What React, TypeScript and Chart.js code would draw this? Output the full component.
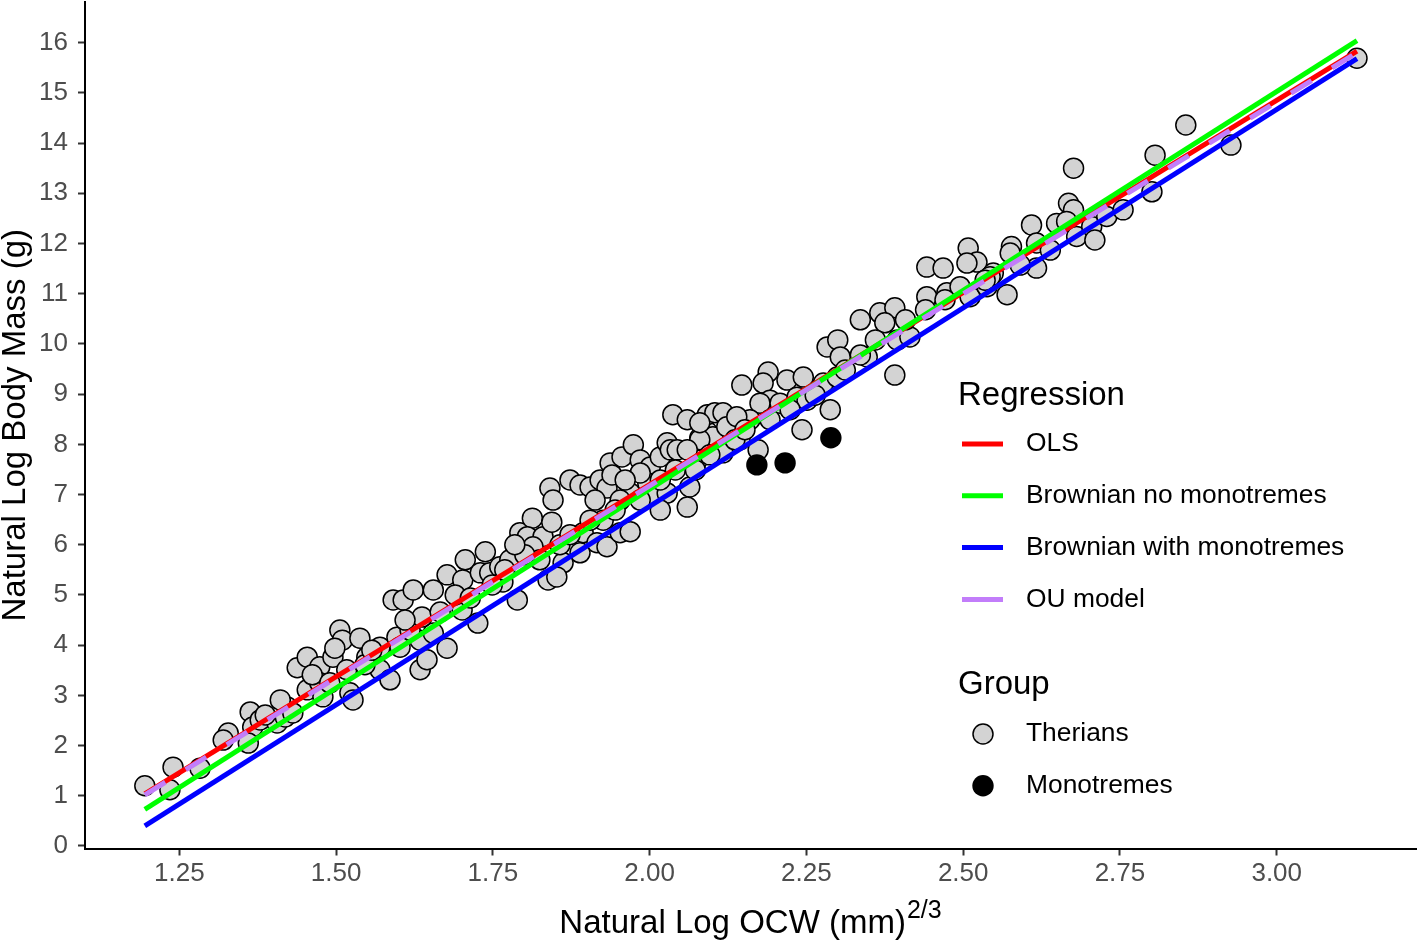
import React, { useEffect, useRef } from 'react';
import { Chart, registerables } from 'chart.js';

Chart.register(...registerables);

const FONT = '"Liberation Sans", Arial, Helvetica, sans-serif';

// Therian species (grey points)
const therianX = [
  1.195, 1.240, 1.235, 1.283, 1.328, 1.320, 1.363, 1.367, 1.360, 1.379,
  1.406, 1.422, 1.419, 1.431, 1.438, 1.454, 1.454, 1.474, 1.474, 1.479,
  1.495, 1.506, 1.510, 1.517, 1.522, 1.527, 1.538, 1.549, 1.570, 1.570,
  1.586, 1.597, 1.591, 1.607, 1.623, 1.634, 1.634, 1.645, 1.655, 1.677,
  1.706, 1.738, 1.702, 1.730, 1.745, 1.761, 1.777, 1.766, 1.789, 1.726,
  1.677, 1.655, 1.618, 1.637, 1.701, 1.793, 1.813, 1.805, 1.830, 1.844,
  1.814, 1.825, 1.838, 1.862, 1.852, 1.889, 1.894, 1.916, 1.932, 1.953,
  1.969, 1.926, 1.841, 1.846, 1.873, 1.889, 1.905, 1.921, 1.932, 1.937,
  1.940, 1.956, 1.974, 1.985, 2.001, 2.017, 2.028, 2.033, 2.044, 1.997,
  2.005, 2.028, 2.064, 2.060, 2.017, 2.080, 2.092, 2.101, 2.037, 2.092,
  2.104, 1.985, 1.969, 1.953, 1.985, 2.147, 2.189, 2.181, 2.219, 2.245,
  2.192, 2.176, 2.208, 2.235, 2.251, 2.288, 2.243, 2.277, 2.299, 2.283,
  2.300, 2.304, 2.336, 2.367, 2.391, 2.375, 2.395, 2.415, 2.391, 2.347,
  2.442, 2.442, 2.468, 2.508, 2.522, 2.474, 2.495, 2.511, 2.538, 2.548,
  2.101, 2.080, 2.117, 2.123, 2.144, 2.160, 2.173, 2.076, 2.117, 2.060,
  2.139, 2.506, 2.543, 2.570, 2.577, 2.575, 2.609, 2.617, 2.617, 2.649,
  2.668, 2.676, 2.665, 2.681, 2.705, 2.729, 2.755, 2.676, 2.806, 2.801,
  2.855, 2.927, 3.128, 1.602, 2.060, 2.080,
  1.498, 1.462, 1.490, 1.546, 1.557, 1.610, 1.666, 1.690, 1.714, 1.749,
  1.769, 1.801, 1.785, 1.857, 1.873, 1.905, 1.945, 1.913, 1.961, 2.017,
  2.041, 2.073, 2.096, 2.136, 2.152, 2.192, 2.224, 2.264, 2.312, 2.336,
  2.360, 2.408, 2.440, 2.471, 2.535, 2.591, 2.639, 2.710, 1.411, 1.387,
];
const therianY = [
  1.20, 1.57, 1.12, 1.55, 2.25, 2.11, 2.67, 2.37, 2.05, 2.51,
  2.45, 2.77, 2.57, 2.65, 3.55, 3.76, 3.11, 3.57, 3.25, 2.97,
  3.76, 4.30, 4.10, 3.51, 3.05, 2.91, 4.14, 3.76, 3.96, 3.51,
  3.31, 4.16, 4.90, 4.90, 5.10, 3.51, 4.10, 3.71, 5.10, 5.40,
  5.70, 5.86, 5.30, 5.44, 5.44, 5.56, 5.70, 5.26, 4.90, 4.44,
  3.94, 4.24, 4.30, 4.56, 4.70, 6.24, 6.53, 6.16, 6.16, 6.45,
  5.96, 5.70, 5.30, 5.64, 5.36, 5.84, 6.24, 6.04, 5.96, 6.24,
  6.26, 6.49, 7.13, 6.89, 7.29, 7.19, 7.15, 7.29, 7.13, 7.63,
  7.39, 7.75, 7.99, 7.69, 7.55, 7.75, 8.03, 7.89, 7.89, 7.23,
  6.95, 7.03, 7.15, 6.75, 6.69, 8.13, 8.25, 8.03, 8.59, 8.59,
  8.63, 7.43, 7.03, 6.89, 6.89, 9.18, 9.44, 9.22, 9.28, 9.34,
  8.88, 8.82, 8.82, 8.94, 8.88, 8.69, 8.29, 9.22, 9.34, 9.94,
  10.08, 9.74, 10.48, 10.62, 10.72, 10.42, 10.08, 10.14, 9.38, 9.74,
  10.94, 11.53, 11.51, 11.91, 11.63, 11.02, 11.14, 10.94, 11.14, 11.41,
  8.15, 8.09, 8.63, 8.35, 8.09, 8.49, 7.89, 7.69, 7.83, 7.89,
  8.55, 11.61, 11.34, 10.98, 11.94, 11.81, 12.37, 12.01, 11.51, 12.40,
  12.80, 12.67, 12.44, 12.14, 12.34, 12.54, 12.67, 13.50, 13.76, 13.03,
  14.36, 13.96, 15.69, 3.96, 8.49, 8.43,
  3.94, 3.41, 3.25, 3.61, 3.90, 4.50, 4.66, 5.00, 4.94, 5.20,
  5.50, 5.80, 6.00, 6.00, 6.20, 6.49, 6.69, 6.89, 7.29, 7.29,
  7.49, 7.49, 7.79, 8.09, 8.29, 8.49, 8.69, 8.98, 9.48, 9.78,
  10.08, 10.48, 10.68, 10.88, 11.27, 11.57, 11.87, 12.07, 2.91, 2.61,
];

// Monotremes (black points)
const monotremeX = [2.171, 2.216, 2.289];
const monotremeY = [7.59, 7.63, 8.13];

// Regression lines (endpoints over the data range)
const lineX = [1.195, 3.128];
const olsY = [1.04, 15.83];
const brownianNoMonoY = [0.73, 16.04];
const brownianWithMonoY = [0.40, 15.68];
const ouY = [1.02, 15.80];

// Axes
const X_MIN = 1.0996;
const X_MAX = 3.2221;
const Y_MIN = -0.05;
const Y_MAX = 16.81;
const xTicks = [1.25, 1.5, 1.75, 2.0, 2.25, 2.5, 2.75, 3.0];
const yTicks = [0, 1, 2, 3, 4, 5, 6, 7, 8, 9, 10, 11, 12, 13, 14, 15, 16];

const xTitleMain = 'Natural Log OCW (mm)';
const xTitleSup = '2/3';
const yTitle = 'Natural Log Body Mass (g)';
const regressionTitle = 'Regression';
const regressionOrder = ['OLS', 'Brownian no monotremes', 'Brownian with monotremes', 'OU model'];
const groupTitle = 'Group';
const groupOrder = ['Therians', 'Monotremes'];

const toPts = (xs: number[], ys: number[]) => xs.map((x, i) => ({ x, y: ys[i] }));

const overlayPlugin = {
  id: 'overlay',
  afterDraw(chart: any) {
    const ctx = chart.ctx as CanvasRenderingContext2D;
    const area = chart.chartArea;
    ctx.save();
    ctx.fillStyle = '#000';
    ctx.textAlign = 'left';

    // X axis title with superscript
    const mainFont = `33px ${FONT}`;
    const supFont = `25px ${FONT}`;
    ctx.font = mainFont;
    const wMain = ctx.measureText(xTitleMain).width;
    ctx.font = supFont;
    const wSup = ctx.measureText(xTitleSup).width;
    const cx = (area.left + area.right) / 2;
    const startX = cx - (wMain + wSup + 1) / 2;
    ctx.textBaseline = 'alphabetic';
    ctx.font = mainFont;
    ctx.fillText(xTitleMain, startX, 933);
    ctx.font = supFont;
    ctx.fillText(xTitleSup, startX + wMain + 1, 918);

    // Legend: Regression
    ctx.font = `33px ${FONT}`;
    ctx.fillText(regressionTitle, 958, 405);
    regressionOrder.forEach((label, i) => {
      const ds = chart.data.datasets.find((d: any) => d.label === label);
      const y = 444 + i * 51.8;
      ctx.strokeStyle = ds.borderColor;
      ctx.lineWidth = 5;
      ctx.setLineDash([]);
      ctx.lineCap = 'butt';
      ctx.beginPath();
      ctx.moveTo(962, y);
      ctx.lineTo(1003, y);
      ctx.stroke();
      ctx.font = `26.4px ${FONT}`;
      ctx.textBaseline = 'middle';
      ctx.fillStyle = '#000';
      ctx.fillText(label, 1026, y);
    });

    // Legend: Group
    ctx.textBaseline = 'alphabetic';
    ctx.font = `33px ${FONT}`;
    ctx.fillText(groupTitle, 958, 694);
    groupOrder.forEach((label, i) => {
      const ds = chart.data.datasets.find((d: any) => d.label === label);
      const y = 734 + i * 51.8;
      ctx.beginPath();
      ctx.arc(983, y, ds.pointRadius, 0, Math.PI * 2);
      ctx.fillStyle = ds.backgroundColor;
      ctx.fill();
      if (ds.borderWidth > 0) {
        ctx.lineWidth = ds.borderWidth;
        ctx.strokeStyle = ds.borderColor;
        ctx.stroke();
      }
      ctx.fillStyle = '#000';
      ctx.font = `26.4px ${FONT}`;
      ctx.textBaseline = 'middle';
      ctx.fillText(label, 1026, y);
      ctx.textBaseline = 'alphabetic';
    });
    ctx.restore();
  },
};

const zeroPadding = (s: any) => {
  s.paddingTop = 0;
  s.paddingBottom = 0;
  s.paddingLeft = 0;
  s.paddingRight = 0;
};

export default function App() {
  const canvasRef = useRef<HTMLCanvasElement | null>(null);

  useEffect(() => {
    if (!canvasRef.current) return;
    const lineDs = (label: string, ys: number[], color: string, dash: number[] = []) => ({
      label,
      data: toPts(lineX, ys),
      showLine: true,
      borderColor: color,
      backgroundColor: color,
      borderWidth: 5,
      borderDash: dash,
      borderCapStyle: 'butt',
      pointRadius: 0,
      pointHoverRadius: 0,
      fill: false,
    });
    const chart = new Chart(canvasRef.current, {
      type: 'scatter',
      data: {
        datasets: [
          lineDs('OU model', ouY, '#C27DFA', [24, 24]),
          lineDs('Brownian with monotremes', brownianWithMonoY, '#0000FF'),
          lineDs('Brownian no monotremes', brownianNoMonoY, '#00FF00'),
          lineDs('OLS', olsY, '#FF0000'),
          {
            label: 'Monotremes',
            data: toPts(monotremeX, monotremeY),
            pointRadius: 10.7,
            pointHoverRadius: 10.7,
            backgroundColor: '#000000',
            borderColor: '#000000',
            borderWidth: 0,
          },
          {
            label: 'Therians',
            data: toPts(therianX, therianY),
            pointRadius: 10,
            pointHoverRadius: 10,
            backgroundColor: '#D3D3D3',
            borderColor: '#000000',
            borderWidth: 1.5,
          },
        ] as any,
      },
      options: {
        animation: false,
        responsive: false,
        maintainAspectRatio: false,
        events: [],
        layout: { autoPadding: false, padding: { top: 2, right: 2, left: 0, bottom: 0 } },
        plugins: {
          legend: { display: false },
          tooltip: { enabled: false },
        },
        scales: {
          x: {
            type: 'linear',
            min: X_MIN,
            max: X_MAX,
            afterBuildTicks: (s: any) => {
              s.ticks = xTicks.map((v) => ({ value: v }));
            },
            afterFit: (s: any) => {
              s.height = 94.5;
              zeroPadding(s);
            },
            ticks: {
              callback: (v: any) => Number(v).toFixed(2),
              font: { size: 26, family: FONT },
              color: '#4D4D4D',
              padding: 3,
              maxRotation: 0,
              autoSkip: false,
            },
            grid: {
              display: true,
              drawOnChartArea: false,
              drawTicks: true,
              tickLength: 7,
              tickWidth: 2,
              tickColor: '#333333',
            },
            border: { display: true, color: '#000000', width: 2 },
            title: { display: false },
          },
          y: {
            type: 'linear',
            min: Y_MIN,
            max: Y_MAX,
            afterBuildTicks: (s: any) => {
              s.ticks = yTicks.map((v) => ({ value: v }));
            },
            afterFit: (s: any) => {
              s.width = 85;
              zeroPadding(s);
            },
            ticks: {
              callback: (v: any) => String(v),
              font: { size: 26, family: FONT },
              color: '#4D4D4D',
              padding: 10,
              autoSkip: false,
            },
            grid: {
              display: true,
              drawOnChartArea: false,
              drawTicks: true,
              tickLength: 7,
              tickWidth: 2,
              tickColor: '#333333',
            },
            border: { display: true, color: '#000000', width: 2 },
            title: {
              display: true,
              text: yTitle,
              color: '#000000',
              font: { size: 33, family: FONT, lineHeight: 1 },
              padding: { top: -1, bottom: 0 },
            },
          },
        },
      } as any,
      plugins: [overlayPlugin],
    });
    return () => chart.destroy();
  }, []);

  return (
    <div style={{ position: 'absolute', left: 0, top: 0, width: 1418, height: 943, background: '#fff' }}>
      <canvas ref={canvasRef} width={1418} height={943} style={{ display: 'block' }} />
    </div>
  );
}
